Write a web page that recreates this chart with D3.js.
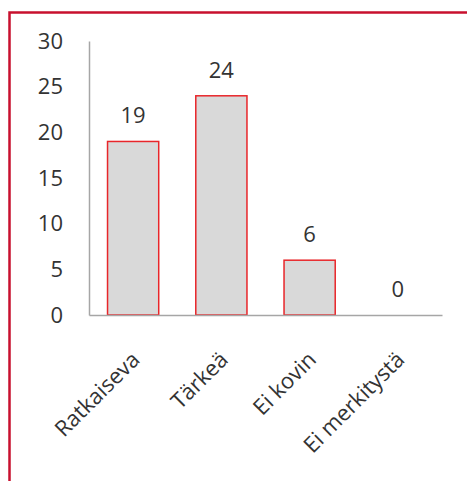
<!DOCTYPE html>
<html><head><meta charset="utf-8">
<script src="https://cdn.jsdelivr.net/npm/d3@7"></script>
<style>html,body{margin:0;padding:0;background:#fff;}svg{display:block;}</style>
</head><body>
<script>
const categories = ["Ratkaiseva", "Tärkeä", "Ei kovin", "Ei merkitystä"];
const values = [19, 24, 6, 0];
const yTicks = [0, 5, 10, 15, 20, 25, 30];

const W = 467, H = 481;
const svg = d3.select("body").append("svg").attr("width", W).attr("height", H);
const font = "'Open Sans', 'Noto Sans', sans-serif";
const textColor = "#333";
const fs = 22;

// frame
svg.append("rect").attr("x", 9.5).attr("y", 12.5).attr("width", W + 10).attr("height", H + 10)
  .attr("fill", "#fff").attr("stroke", "#c8102e").attr("stroke-width", 2.5);

const x0 = 89, x1 = 442, yB = 315, yT = 41;
const x = d3.scaleBand().domain(categories).range([x0, x1]).paddingInner(0.42).paddingOuter(0.21);
const y = d3.scaleLinear().domain([0, 30]).range([yB, yT]);

// y axis
const yAxis = d3.axisLeft(y).tickValues(yTicks).tickSize(0).tickPadding(26);
const gy = svg.append("g").attr("transform", `translate(${x0},0)`).call(yAxis);
gy.select(".domain").attr("stroke", "#a6a6a6").attr("stroke-width", 1.5);
gy.selectAll("text").attr("font-family", font).attr("font-size", fs).attr("fill", textColor);

// bars
svg.append("g").selectAll("rect").data(values).join("rect")
  .attr("x", (d, i) => x(categories[i]))
  .attr("y", d => y(d))
  .attr("width", x.bandwidth())
  .attr("height", d => yB - y(d))
  .attr("fill", "#d9d9d9")
  .attr("stroke", d => d > 0 ? "#e8262a" : "none")
  .attr("stroke-width", 1.5);

// x axis
const xAxis = d3.axisBottom(x).tickSize(0).tickPadding(0);
const gx = svg.append("g").attr("transform", `translate(0,${yB})`).call(xAxis);
gx.select(".domain").attr("stroke", "#a6a6a6").attr("stroke-width", 1.5);
gx.selectAll("text")
  .attr("font-family", font).attr("font-size", fs).attr("fill", textColor)
  .attr("text-anchor", "end").attr("dy", 0)
  .attr("transform", "translate(8,46) rotate(-45)");

// value labels
svg.append("g").selectAll("text").data(values).join("text")
  .attr("x", (d, i) => x(categories[i]) + x.bandwidth() / 2)
  .attr("y", d => y(d) - 18)
  .attr("text-anchor", "middle")
  .attr("font-family", font).attr("font-size", fs).attr("fill", textColor)
  .text(d => d);
</script>
</body></html>
